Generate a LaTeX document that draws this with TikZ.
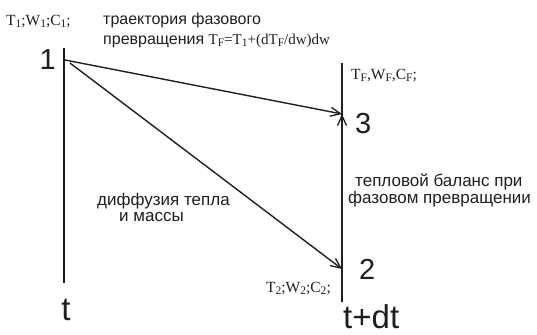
\documentclass[tikz,border=0pt]{standalone}
\usepackage{fontspec}
\setmainfont{Liberation Sans}
\newfontfamily\serifT{Liberation Serif}
\usetikzlibrary{arrows.meta}
\newcommand{\sbs}[1]{\raisebox{-2pt}{\fontsize{11.5}{11.5}\selectfont #1}}
\begin{document}
\begin{tikzpicture}[x=1pt,y=-1pt,
  axis/.style={line width=2.8pt,black!88},
  flow/.style={line width=1.4pt,black!88,-{Straight Barb[length=10pt,width=9pt,line width=1.3pt]}},
  lbl/.style={font=\fontsize{16}{17}\selectfont,text=black!88,inner sep=0pt,align=left},
  lblb/.style={lbl,font=\fontsize{17}{17}\selectfont},
  num/.style={font=\fontsize{29}{29}\selectfont,text=black!88,inner sep=0pt},
  st/.style={font=\serifT\fontsize{15.5}{16}\selectfont,text=black!88,inner sep=0pt}]
\useasboundingbox (0,0) rectangle (537,334);
% points
\coordinate (p1) at (65,60);
\coordinate (p3) at (342,114);
\coordinate (p2) at (342,269);
\coordinate (tt) at (64,48);
\coordinate (tb) at (64,283);
\coordinate (rt) at (342,63);
\coordinate (rb) at (342,302);
\coordinate (pu) at (342,140);
\draw[axis] (tt) -- (tb);
\draw[axis] (rt) -- (rb);
\draw[flow] (p1) -- (p3);
\draw[flow] ([xshift=5pt,yshift=-3pt]p1) -- (p2);
\draw[flow] (pu) -- (p3);
% labels
\node[st,anchor=base west] (s1) at (6,26) {T\sbs{1};W\sbs{1};C\sbs{1};};
\node[lbl,anchor=base west] (traj1) at (103,25) {траектория фазового};
\node[lbl,anchor=base west] (traj2) at (103,45) {превращения {\serifT\fontsize{15}{16}\selectfont T\sbs{F}=T\sbs{1}+(dT\sbs{F}/dw)dw}};
\node[num,anchor=base east] (n1) at (56,70) {1};
\node[st,anchor=base west] (sF) at (351,80) {T\sbs{F},W\sbs{F},C\sbs{F};};
\node[num,anchor=base west] (n3) at (355,133) {3};
\node[lblb,anchor=base west] (bal1) at (355,186) {тепловой баланс при};
\node[lblb,anchor=base west] (bal2) at (348,203) {фазовом превращении};
\node[lblb,anchor=base west] (dif1) at (97,205) {диффузия тепла};
\node[lblb,anchor=base west] (dif2) at (119,221) {и массы};
\node[st,anchor=base east] (s2) at (331,292) {T\sbs{2};W\sbs{2};C\sbs{2};};
\node[num,anchor=base west] (n2) at (359,279) {2};
\node[num,anchor=base,font=\fontsize{33}{33}\selectfont] (t) at (66,320) {t};
\node[num,anchor=base west,font=\fontsize{33}{33}\selectfont] (tdt) at (343,328) {t+dt};
\end{tikzpicture}
\end{document}
